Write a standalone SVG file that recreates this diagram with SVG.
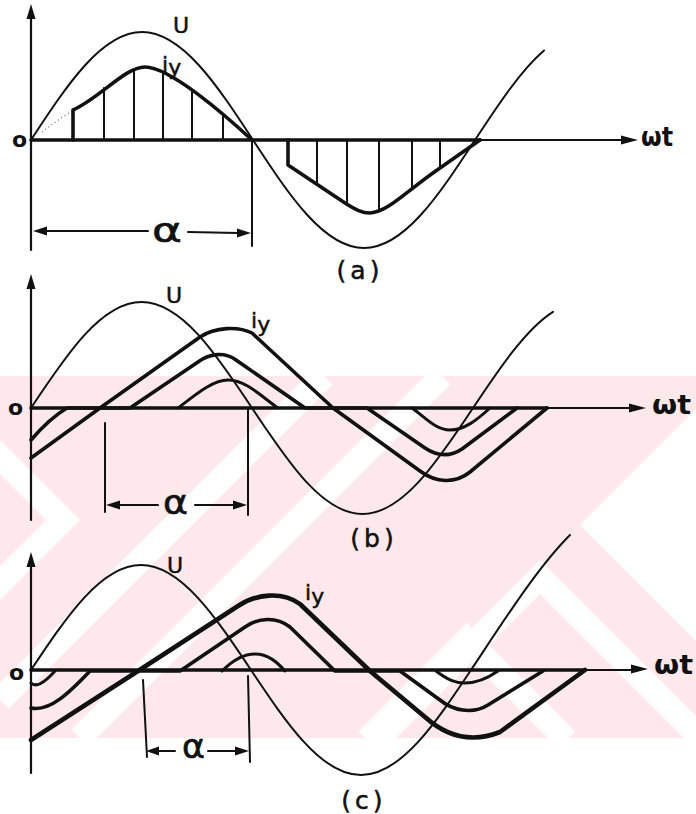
<svg xmlns="http://www.w3.org/2000/svg" width="696" height="814" viewBox="0 0 696 814">
<defs>
<style>
.ln{fill:none;stroke:#111;stroke-linecap:round;stroke-linejoin:round}
.u{stroke-width:2}
.i{stroke-width:3.6}
.i3{stroke-width:3}
.i4{stroke-width:4.6}
.ax{stroke-width:2.2}
.hx{stroke-width:2}
.ah{fill:#111;stroke:none}
text{font-family:"DejaVu Sans","Liberation Sans",Arial,sans-serif;fill:#111}
.lbl{font-size:22px;stroke:#111;stroke-width:0.5}
.o{font-size:22px;font-weight:bold}
.wt{font-size:27px;font-weight:bold}
.al{font-size:34px;stroke:#111;stroke-width:0.6}
.cap{font-size:25px;letter-spacing:4px;stroke:#111;stroke-width:0.5}
.wm{fill:none;stroke:#fff;stroke-width:24}
</style>
<clipPath id="band"><rect x="0" y="376" width="696" height="362"/></clipPath>
</defs>
<rect width="696" height="814" fill="#fff"/>

<g id="watermark" clip-path="url(#band)">
<rect x="0" y="376" width="696" height="362" fill="#fde9ec"/>
<polyline class="wm" points="-81,376 63,520 -57,640"/>
<line class="wm" x1="0" y1="700" x2="324" y2="376"/>
<line class="wm" x1="80" y1="738" x2="442" y2="376"/>
<polygon points="580,525 696,409 696,641" fill="#fff"/>
<polyline class="wm" points="377,740 540,577 703,740"/>
<polyline class="wm" points="367,740 467,640 567,740"/>
</g>

<g id="plot-a">
<line class="ln ax" x1="31" y1="250" x2="31" y2="16"/>
<polygon class="ah" points="31,4 26.5,19 35.5,19"/>
<line class="ln ax" x1="31" y1="140" x2="624" y2="140"/>
<line class="ln i" x1="31" y1="140" x2="480" y2="140"/>
<polygon class="ah" points="638,140 621,135.5 621,144.5"/>
<path class="ln u" d="M31,140 C67.2,84.7 102,32 142,32 C182,32 216.8,84.7 253,140 C289.2,195.3 324,248 364,248 C404,248 438.8,195.3 475,140 C498,104.9 521,70.2 544,50.5"/>
<path d="M42,132 Q56,121 72,111" fill="none" stroke="#888" stroke-width="1.5" stroke-dasharray="1 3"/>
<path class="ln i" d="M73,140 L73,110 C100,98 125,67 145,67 C170,67 225,115 252,140"/>
<path class="ln hx" d="M104,140 V88 M134,140 V70 M163,140 V72 M192,140 V92 M223,140 V116"/>
<path class="ln i" d="M288,140 L288,165 L345,203 C356,210 362,213 370,213 C388,212 405,192 440,168 L480,140"/>
<path class="ln hx" d="M317,140 V184 M347,140 V204 M379,140 V211 M412,140 V188 M440,140 V168"/>
<line class="ln hx" x1="252" y1="140" x2="252" y2="246"/>
<line class="ln hx" x1="45" y1="231" x2="148" y2="231"/>
<polygon class="ah" points="33,231 47,226.5 47,235.5"/>
<line class="ln hx" x1="188" y1="232" x2="238" y2="233"/>
<polygon class="ah" points="251,233 237,228.5 237,237.5"/>
<text class="al" x="152" y="242" textLength="30" lengthAdjust="spacingAndGlyphs">α</text>
<text class="o" x="12" y="147">o</text>
<text class="lbl" x="173" y="33">U</text>
<text class="lbl" x="162" y="72" font-size="20">i<tspan dy="3">y</tspan></text>
<text class="wt" x="641" y="146" font-size="23" textLength="32" lengthAdjust="spacingAndGlyphs">ωt</text>
<text class="cap" x="360" y="279" text-anchor="middle">(a)</text>
</g>

<g id="plot-b">
<line class="ln ax" x1="31" y1="520" x2="31" y2="288"/>
<polygon class="ah" points="31,274 26.5,289 35.5,289"/>
<line class="ln ax" x1="31" y1="408" x2="632" y2="408"/>
<line class="ln i" x1="31" y1="408" x2="547" y2="408"/>
<polygon class="ah" points="646,408 629,403.5 629,412.5"/>
<path class="ln u" d="M31,408 C67,353.7 101.7,302 141.5,302 C181.3,302 216,353.7 252,408 C288,462.3 322.7,514 362.5,514 C402.3,514 437,462.3 473,408 C499.7,367.8 526.3,328.7 553,311.8"/>
<path class="ln i" d="M31,458 L100,408 L200,337 C215,327 238,326 252,333 L333,408 L420,471 C436,483 455,484 470,472 L547,408"/>
<path class="ln i" d="M31,440 Q50,418 67,408 L130,408 L198,362 C210,353 225,352 236,360 L305,408 L367,408 L425,448 C437,456 450,457 462,449 L517,408"/>
<path class="ln i3" d="M178,408 C194,396 212,380 228,380 C246,380 262,397 278,408 M412,408 C426,418 436,430 450,430 C465,430 478,419 490,408"/>
<line class="ln hx" x1="105" y1="423" x2="105" y2="512"/>
<line class="ln hx" x1="248" y1="408" x2="248" y2="515"/>
<line class="ln hx" x1="118" y1="505" x2="158" y2="505"/>
<polygon class="ah" points="106,505 120,500.5 120,509.5"/>
<line class="ln hx" x1="195" y1="505" x2="234" y2="505"/>
<polygon class="ah" points="247,505 233,500.5 233,509.5"/>
<text class="al" x="163" y="514" font-size="30" textLength="25" lengthAdjust="spacingAndGlyphs">α</text>
<text class="o" x="8" y="415">o</text>
<text class="lbl" x="166" y="303">U</text>
<text class="lbl" x="251" y="328" font-size="23">i<tspan dy="4">y</tspan></text>
<text class="wt" x="652" y="414" textLength="39" lengthAdjust="spacingAndGlyphs">ωt</text>
<text class="cap" x="374" y="547" text-anchor="middle">(b)</text>
</g>

<g id="plot-c">
<line class="ln ax" x1="31" y1="773" x2="31" y2="566"/>
<polygon class="ah" points="31,552 26.5,567 35.5,567"/>
<line class="ln ax" x1="31" y1="670" x2="634" y2="670"/>
<line class="ln i" x1="31" y1="670" x2="585" y2="670"/>
<polygon class="ah" points="648,669 631,664.5 631,673.5"/>
<path class="ln u" d="M31,670 C66.9,616.2 101.3,565 141,565 C180.7,565 215.1,616.2 251,670 C286.9,723.8 321.3,775 361,775 C400.7,775 435.1,723.8 471,670 C504,620.5 537,568 570,535"/>
<path class="ln i4" d="M31,740 L138,671 L238,606 C256,594 282,591 300,604 L370,671 L425,717 C445,735 470,744 500,732 L585,670"/>
<path class="ln i" d="M31,708 C50,712 70,692 90,671 L180,671 L245,627 C258,618 276,616 290,627 L335,671 L400,671 L440,700 C452,710 472,715 488,705 L543,671"/>
<path class="ln i3" d="M31,683 Q38,690 55,671 M222,671 C232,661 242,654 255,654 C268,654 277,662 285,671 M436,671 C448,680 455,683 465,683 C478,683 488,678 498,671"/>
<line class="ln hx" x1="143" y1="680" x2="147" y2="757"/>
<line class="ln hx" x1="248" y1="676" x2="250" y2="762"/>
<line class="ln hx" x1="158" y1="751" x2="175" y2="751"/>
<polygon class="ah" points="146,751 159,746.5 159,755.5"/>
<line class="ln hx" x1="208" y1="751" x2="236" y2="751"/>
<polygon class="ah" points="249,751 235,746.5 235,755.5"/>
<text class="al" x="182" y="758" font-size="28" textLength="23" lengthAdjust="spacingAndGlyphs">α</text>
<text class="o" x="9" y="680">o</text>
<text class="lbl" x="167" y="573">U</text>
<text class="lbl" x="305" y="600">i<tspan dy="4">y</tspan></text>
<text class="wt" x="654" y="674" textLength="39" lengthAdjust="spacingAndGlyphs">ωt</text>
<text class="cap" x="364" y="809" text-anchor="middle">(c)</text>
</g>
</svg>
